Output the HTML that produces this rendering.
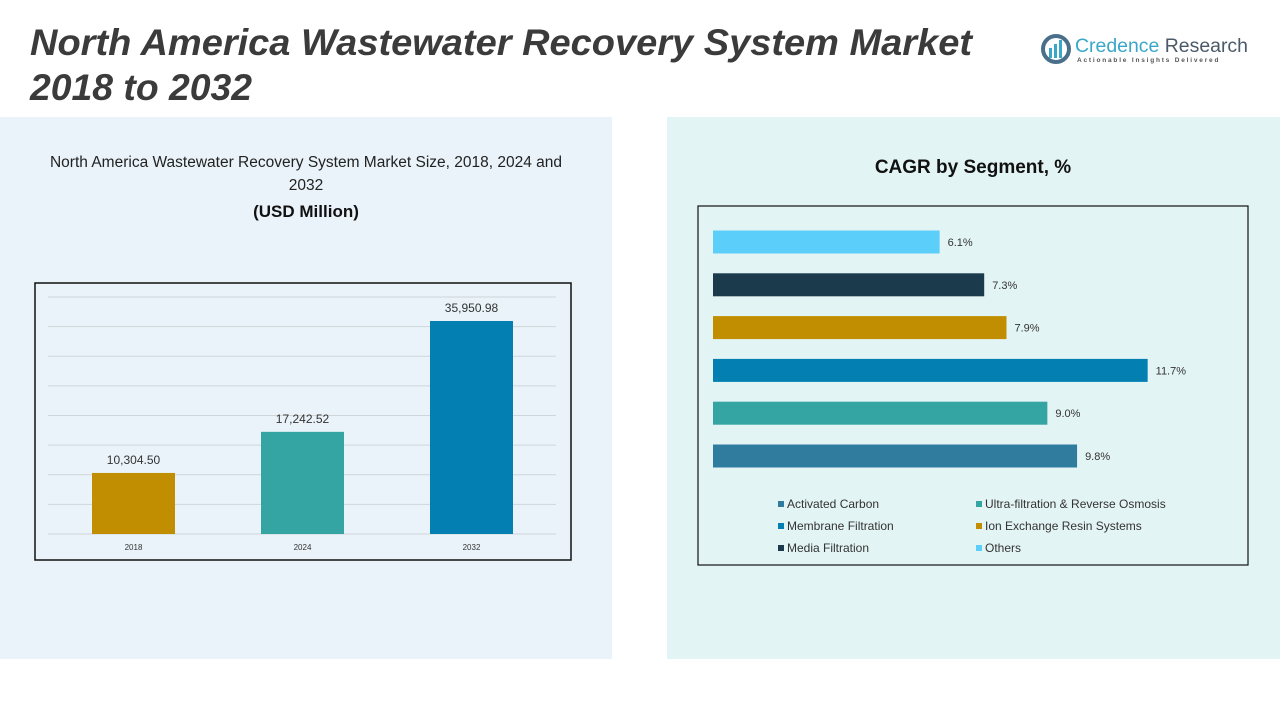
<!DOCTYPE html>
<html><head><meta charset="utf-8">
<style>
body{margin:0;width:1280px;height:720px;background:#fff;font-family:"Liberation Sans",sans-serif;overflow:hidden;position:relative}
svg{position:absolute;left:0;top:0}
</style></head>
<body>
<svg width="1280" height="720" viewBox="0 0 1280 720" id="root">
  <rect x="0" y="117" width="612" height="542" fill="#e9f3f9"/>
  <rect x="667" y="117" width="613" height="542" fill="#e3f4f4"/>
  <text x="30" y="55" font-size="37" font-weight="bold" font-style="italic" fill="#3b3b3b" textLength="942" lengthAdjust="spacingAndGlyphs">North America Wastewater Recovery System Market</text>
  <text x="30" y="100" font-size="37" font-weight="bold" font-style="italic" fill="#3b3b3b" textLength="222" lengthAdjust="spacingAndGlyphs">2018 to 2032</text>
  <g>
    <circle cx="1056" cy="49" r="13" fill="none" stroke="#4a6f8a" stroke-width="4"/>
    <rect x="1049" y="48" width="3" height="10" fill="#3aa7c9"/><rect x="1054" y="44" width="3" height="14" fill="#3aa7c9"/><rect x="1059" y="40" width="3" height="18" fill="#3aa7c9"/>
    <text x="1075" y="52" font-size="19" fill="#3aa7c9" textLength="173" lengthAdjust="spacingAndGlyphs">Credence <tspan fill="#4a5a68">Research</tspan></text>
    <text x="1077" y="62" font-size="6.5" fill="#555" letter-spacing="1.8" font-weight="bold">Actionable Insights Delivered</text>
  </g>
  <text x="306" y="167" font-size="15.5" text-anchor="middle" fill="#222">North America Wastewater Recovery System Market Size, 2018, 2024 and</text>
  <text x="306" y="190" font-size="15.5" text-anchor="middle" fill="#222">2032</text>
  <text x="306" y="217" font-size="17" font-weight="bold" text-anchor="middle" fill="#111">(USD Million)</text>
  <rect x="35" y="283" width="536" height="277" fill="none" stroke="#111" stroke-width="1.5"/>
  <g id="barchart"></g>
  <text x="973" y="173" font-size="19" font-weight="bold" text-anchor="middle" fill="#111">CAGR by Segment, %</text>
  <rect x="698" y="206" width="550" height="359" fill="none" stroke="#111" stroke-width="1.2"/>
  <g id="hbar"></g>
  <g id="legend"></g>
</svg>
<script>
const years = ["2018","2024","2032"];
const marketValues = [10304.50, 17242.52, 35950.98];
const marketLabels = ["10,304.50","17,242.52","35,950.98"];
const barColors = ["#c08e00","#34a5a2","#0380b1"];
const segments = ["Others","Media Filtration","Ion Exchange Resin Systems","Membrane Filtration","Ultra-filtration & Reverse Osmosis","Activated Carbon"];
const cagrValues = [6.1, 7.3, 7.9, 11.7, 9.0, 9.8];
const segColors = ["#5ccefa","#1b3a4b","#c08e00","#0380b1","#34a5a2","#2f7c9f"];
const legendOrder = [5,4,3,2,1,0];

const NS="http://www.w3.org/2000/svg";
function mk(tag,attrs,parent){const e=document.createElementNS(NS,tag);for(const k in attrs)e.setAttribute(k,attrs[k]);parent.appendChild(e);return e;}

const bc=document.getElementById('barchart');
const y0=534, yMax=40000, yTop=297;
const yS=v=>y0-(v/yMax)*(y0-yTop);
for(let g=0;g<=8;g++){
  const l=mk('line',{x1:48,x2:556,y1:yS(g*5000),y2:yS(g*5000),stroke:'#cfd6da','stroke-width':1},bc);
  
  
}
years.forEach((yr,i)=>{
  const cx=92+41.5+i*169;
  const r=mk('rect',{x:cx-41.5,y:yS(marketValues[i]),width:83,height:y0-yS(marketValues[i]),fill:barColors[i]},bc);
  
  
  const t=mk('text',{x:cx,y:yS(marketValues[i])-9,'font-size':12,'text-anchor':'middle',fill:'#333'},bc);
  t.textContent=marketLabels[i];
  
  
  const a=mk('text',{x:cx,y:550,'font-size':8,'text-anchor':'middle',fill:'#333'},bc);
  a.textContent=yr;
  
  
});

const hb=document.getElementById('hbar');
const hx0=713, hS=37.15;
segments.forEach((s,i)=>{
  const cy=242+i*42.8;
  const w=cagrValues[i]*hS;
  const r=mk('rect',{x:hx0,y:cy-11.5,width:w,height:23,fill:segColors[i]},hb);
  
  
  const t=mk('text',{x:hx0+w+8,y:cy+4,'font-size':11,fill:'#333'},hb);
  t.textContent=cagrValues[i].toFixed(1)+'%';
  
  
});

const lg=document.getElementById('legend');
legendOrder.forEach((idx,k)=>{
  const col=k%2, row=Math.floor(k/2);
  const x=col?976:778, y=507+row*22;
  const g=mk('g',{},lg);
  
  
  mk('rect',{x:x,y:y-6,width:6,height:6,fill:segColors[idx]},g);
  const t=mk('text',{x:x+9,y:y+1,'font-size':12,fill:'#333'},g);
  t.textContent=segments[idx];
});
</script>
</body></html>
